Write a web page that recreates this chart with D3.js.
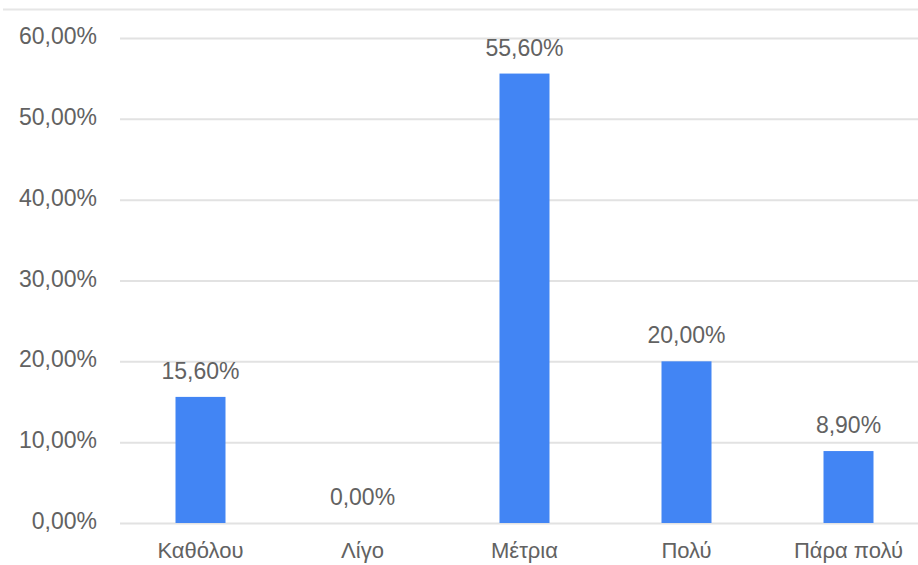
<!DOCTYPE html>
<html>
<head>
<meta charset="UTF-8">
<script src="https://cdn.jsdelivr.net/npm/d3@7"></script>
<style>
    body { margin: 0; background: #fff; }
    text { font-family: "Liberation Sans", Arial, sans-serif; fill: #626262; }
    .grid line { stroke: #e2e2e2; stroke-width: 2; }
    .grid path { display: none; }
</style>
</head>
<body>
<div id="chart"></div>
<script>
// data
var categories = ["Καθόλου", "Λίγο", "Μέτρια", "Πολύ", "Πάρα πολύ"];
var values = [15.6, 0, 55.6, 20.0, 8.9];
var yTicks = [0, 10, 20, 30, 40, 50, 60];

var width = 918, height = 565;

var svg = d3.select("#chart").append("svg")
    .attr("width", width)
    .attr("height", height);

// x: band per category, bars 50px wide centred in each band
var x = d3.scaleBand().domain(categories).range([119.5, 929.5]).padding(0);
var barW = 50;

// y: 0..60 %
var y = d3.scaleLinear().domain([0, 60]).range([523, 38]);

var fmt = function (v) { return v.toFixed(2).replace(".", ",") + "%"; };

// thin top border line
svg.append("line")
    .attr("x1", 3).attr("x2", width)
    .attr("y1", 9.5).attr("y2", 9.5)
    .attr("stroke", "#e6e6e6").attr("stroke-width", 2);

// horizontal gridlines
svg.append("g")
    .attr("class", "grid")
    .attr("transform", "translate(120,0)")
    .call(d3.axisLeft(y).tickValues(yTicks).tickSize(-(width - 120)).tickFormat(""));

// y tick labels
svg.append("g").selectAll("text")
    .data(yTicks)
    .enter().append("text")
    .attr("x", 97)
    .attr("y", function (d) { return y(d) + 6; })
    .attr("text-anchor", "end")
    .attr("font-size", 23)
    .text(fmt);

// bars
svg.append("g").selectAll("rect")
    .data(values)
    .enter().append("rect")
    .attr("x", function (d, i) { return x(categories[i]) + (x.bandwidth() - barW) / 2; })
    .attr("y", function (d) { return y(d); })
    .attr("width", barW)
    .attr("height", function (d) { return y(0) - y(d); })
    .attr("fill", "#4285f4");

// value labels above bars
svg.append("g").selectAll("text")
    .data(values)
    .enter().append("text")
    .attr("x", function (d, i) { return x(categories[i]) + x.bandwidth() / 2; })
    .attr("y", function (d) { return y(d) - 18; })
    .attr("text-anchor", "middle")
    .attr("font-size", 23)
    .text(fmt);

// category labels
svg.append("g").selectAll("text")
    .data(categories)
    .enter().append("text")
    .attr("x", function (d) { return x(d) + x.bandwidth() / 2; })
    .attr("y", 558)
    .attr("text-anchor", "middle")
    .attr("font-size", 22)
    .text(function (d) { return d; });
</script>
</body>
</html>
